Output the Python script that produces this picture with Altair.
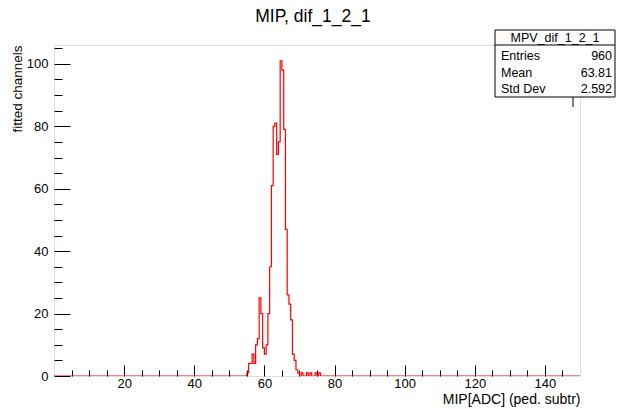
import altair as alt
import pandas as pd

# ---------------- data ----------------
bin_width = 0.5
x_lo, x_hi = 0.0, 150.0
y_hi = 106.05

bin_left = [55.0, 55.5, 56.0, 56.5, 57.0, 57.5, 58.0, 58.5, 59.0, 59.5,
            60.0, 60.5, 61.0, 61.5, 62.0, 62.5, 63.0, 63.5, 64.0, 64.5,
            65.0, 65.5, 66.0, 66.5, 67.0, 67.5, 68.0, 68.5, 69.0, 69.5,
            70.5, 72.0, 73.0, 74.5, 75.5]
bin_count = [1, 4, 4, 7, 4, 10, 12, 25, 20, 9,
             7, 10, 20, 35, 61, 80, 81, 71, 75, 101,
             98, 79, 47, 26, 23, 18, 7, 5, 2, 1,
             1, 1, 1, 1, 1]

title_text = "MIP, dif_1_2_1"
x_title = "MIP[ADC] (ped. subtr)"
y_title = "fitted channels"

x_major = [20, 40, 60, 80, 100, 120, 140]
x_minor = [5, 10, 15, 25, 30, 35, 45, 50, 55, 65, 70, 75, 85, 90, 95,
           105, 110, 115, 125, 130, 135, 145]
y_major = [0, 20, 40, 60, 80, 100]
y_minor = [5, 10, 15, 25, 30, 35, 45, 50, 55, 65, 70, 75, 85, 90, 95, 105]

stats_name = "MPV_dif_1_2_1"
stats_labels = ["Entries", "Mean", "Std Dev"]
stats_values = ["960", "63.81", "2.592"]

# ---------------- build the full histogram table ----------------
lookup = dict(zip(bin_left, bin_count))
n_bins = int(round((x_hi - x_lo) / bin_width))
edges = [x_lo + i * bin_width for i in range(n_bins)]
counts = [lookup.get(e, 0) for e in edges]
edges.append(x_hi)
counts.append(0)
hist_df = pd.DataFrame({"edge": edges, "count": counts})

FONT = "Liberation Sans"
W, H = 526, 331

xs = alt.Scale(domain=[x_lo, x_hi], nice=False, zero=False)
ys = alt.Scale(domain=[0, y_hi], nice=False, zero=False)

common_axis = dict(domain=False, grid=False, tickColor="black", tickWidth=1,
                   labelColor="black", labelFont=FONT, labelFontSize=13,
                   titleColor="black", titleFont=FONT, titleFontWeight="normal")

hist = alt.Chart(hist_df).mark_line(
    interpolate="step-after", color="#ff0000", strokeWidth=1.2, clip=True
).encode(
    x=alt.X("edge:Q", scale=xs,
            axis=alt.Axis(orient="bottom", values=x_major, tickSize=11, offset=-11,
                          labelPadding=1, title=x_title, titleAnchor="end",
                          titleFontSize=14, titlePadding=2, **common_axis)),
    y=alt.Y("count:Q", scale=ys,
            axis=alt.Axis(orient="left", values=y_major, tickSize=16, offset=-16,
                          labelPadding=6, title=y_title, titleAnchor="end",
                          titleFontSize=13.5, titlePadding=2, **common_axis)),
)

minor = alt.Chart(hist_df).mark_line(opacity=0).encode(
    x=alt.X("edge:Q", scale=xs,
            axis=alt.Axis(orient="bottom", values=x_minor, tickSize=6, offset=-6,
                          labels=False, title=None, **common_axis)),
    y=alt.Y("count:Q", scale=ys,
            axis=alt.Axis(orient="left", values=y_minor, tickSize=8, offset=-8,
                          labels=False, title=None, **common_axis)),
)

# ---------------- main title (as a text mark above the frame) ----------------
title_mark = alt.Chart(pd.DataFrame({"t": [title_text]})).mark_text(
    font=FONT, fontSize=17.5, align="center", baseline="middle", color="black"
).encode(x=alt.value(259), y=alt.value(-28), text="t:N")

# ---------------- statistics box ----------------
one = pd.DataFrame({"k": [0]})
box = alt.Chart(one).mark_rect(fill="white", stroke="black", strokeWidth=1).encode(
    x=alt.value(441), x2=alt.value(561), y=alt.value(-15), y2=alt.value(52))
sep = alt.Chart(one).mark_rule(color="black", strokeWidth=1).encode(
    x=alt.value(441), x2=alt.value(561), y=alt.value(0))
stub = alt.Chart(one).mark_rule(color="black", strokeWidth=1).encode(
    x=alt.value(519), y=alt.value(52), y2=alt.value(62))
head = alt.Chart(pd.DataFrame({"t": [stats_name]})).mark_text(
    font=FONT, fontSize=12.5, align="center", baseline="middle", color="black"
).encode(x=alt.value(501), y=alt.value(-7.5), text="t:N")

stat_layers = []
row_y = [10.5, 27.5, 44.0]
for lab, val, yy in zip(stats_labels, stats_values, row_y):
    d = pd.DataFrame({"lab": [lab], "val": [val]})
    stat_layers.append(alt.Chart(d).mark_text(
        font=FONT, fontSize=12.5, align="left", baseline="middle", color="black"
    ).encode(x=alt.value(447), y=alt.value(yy), text="lab:N"))
    stat_layers.append(alt.Chart(d).mark_text(
        font=FONT, fontSize=12.5, align="right", baseline="middle", color="black"
    ).encode(x=alt.value(558), y=alt.value(yy), text="val:N"))

chart = alt.layer(hist, minor, title_mark, box, sep, stub, head, *stat_layers).resolve_axis(
    x="independent", y="independent"
).properties(
    width=W, height=H,
    autosize=alt.AutoSizeParams(type="none"),
    padding={"left": 54, "top": 45, "right": 39, "bottom": 33},
).configure_view(stroke="black", strokeWidth=1).configure(background="white")

chart.save("out.html", embed_options={"renderer": "svg", "actions": False})
